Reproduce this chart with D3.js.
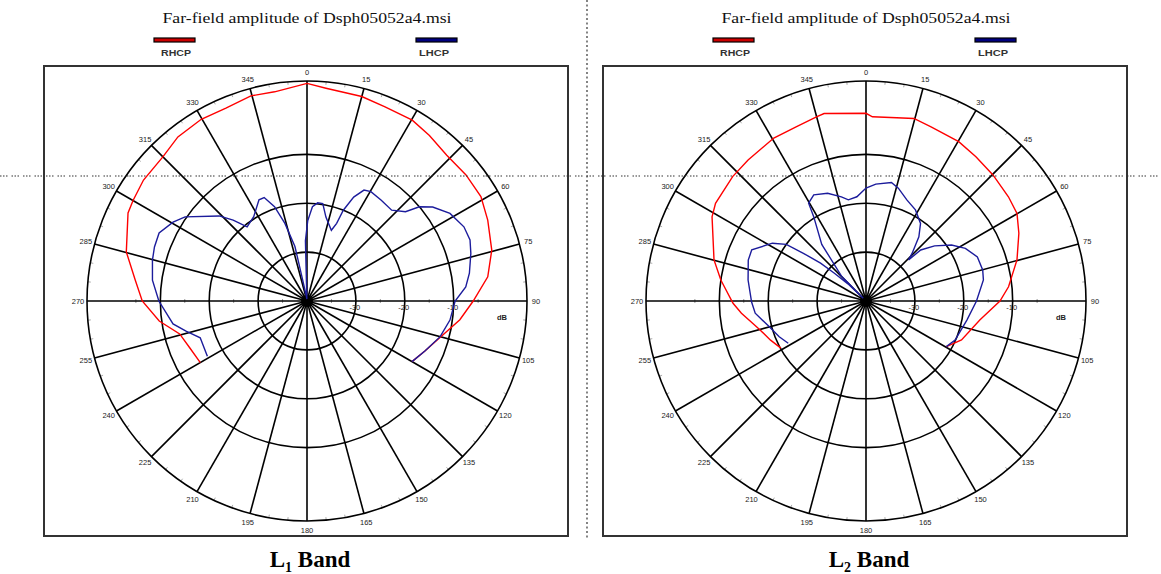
<!DOCTYPE html>
<html>
<head>
<meta charset="utf-8">
<script src="https://cdn.jsdelivr.net/npm/d3@7"></script>
<style>
  body { margin: 0; background: #fff; }
  svg { display: block; }
</style>
</head>
<body>
<svg id="chart" width="1161" height="574"></svg>
<script>
// Select the SVG container and define its dimensions
const svg = d3.select("#chart");
const width = +svg.attr("width");
const height = +svg.attr("height");

// Tick labels
const angleTicks = [0, 15, 30, 45, 60, 75, 90, 105, 120, 135, 150, 165,
                    180, 195, 210, 225, 240, 255, 270, 285, 300, 315, 330, 345];
const ringTicks = [-30, -20, -10];
const minorRingTicks = [-35, -25, -15, -5];
const seriesNames = ["RHCP", "LHCP"];
const bandNames = ["1", "2"];
const titleText = "Far-field amplitude of Dsph05052a4.msi";

// L1 band, RHCP (angle in degrees from boresight, amplitude in dB)
const l1RhcpAngles = [-120, -112, -104.5, -97.7, -90, -83, -74.8, -63.8, -59.9, -53.5, -45, -38.2,
                      -30.2, -22.8, -15.3, -8.8, 0, 5.1, 15, 21.9, 30.2, 36.5, 43.8, 51.6, 59,
                      65.9, 74.6, 82.4, 90, 97, 106.7, 113, 120];
const l1RhcpDb = [-14.8, -14.2, -13.1, -9.5, -6.3, -4.6, -1.7, 0.8, 1.1, 1.6, 1.7, 2.7,
                  3.0, 2.8, 3.5, 3.3, 4.5, 3.7, 3.3, 2.8, 2.8, 2.1, 1.3, 1.5, 1.5,
                  0.5, -0.8, -2.7, -6.0, -8.5, -12.2, -13.8, -15.2];

// L1 band, LHCP
const l1LhcpAngles = [-119, -109, -104, -99.7, -90, -82.3, -75.2, -70.5, -65.3, -59.5, -55.4, -45.9,
                      -42.4, -38.9, -32.3, -25.4, -22.5, -19, -15.9, -12.5, -11.8, -8, -4, -1.5,
                      0.5, 3.3, 6.2, 9.2, 12.7, 19, 20.9, 21.8, 24.2, 27.2, 30.3, 36.4, 43,
                      47.8, 50, 53.2, 58.5, 64.7, 69.5, 73.8, 80.3, 84.9, 90, 97.6, 105, 113, 120];
const l1LhcpDb = [-16.7, -16.9, -14.5, -12.2, -9.7, -8.1, -7.3, -6.9, -6.7, -8.2, -9.7, -15.0,
                  -17.6, -20.5, -19.6, -17.1, -17.1, -19.6, -23.5, -28.6, -34.9, -39, -39.6, -27.7,
                  -23.6, -20.7, -19.8, -19.8, -22.4, -24.7, -23.0, -20.0, -16.7, -14.5, -14.1, -14.4, -14.6,
                  -12.8, -10.0, -7.9, -5.7, -4.5, -4.4, -5.1, -6.3, -7.4, -9.7, -10.5, -11.8, -13.8, -15.2];

// L2 band, RHCP
const l2RhcpAngles = [-119, -112.3, -104.3, -95.6, -91, -81.8, -74.9, -61.3, -57, -47,
                      -39.9, -29.5, -21.7, -14.9, -12.6, 0, 2, 9.5, 14.7, 20.5,
                      30.2, 37.3, 45.2, 53.8, 59.9, 66.1, 74.8, 84.3, 90, 99.5, 112.2, 119.6];
const l2RhcpDb = [-20.1, -18.9, -17.3, -14.4, -12.8, -10.0, -7.8, -4.1, -3.3, -2.7,
                  -2.4, -1.7, -1.6, -1.0, -0.7, -1.6, -2.3, -2.0, -1.4, -2.0,
                  -2.3, -2.9, -3.4, -3.9, -4.3, -5.8, -8.0, -10.7, -12.6, -16.4, -18.9, -21.1];

// L2 band, LHCP
const l2LhcpAngles = [-118.5, -112.4, -104.8, -96.3, -90.5, -79.9, -70.8, -65.9, -58.3, -54.6,
                      -52.7, -50.2, -48.7, -46.5, -45.5, -44.5, -38, -31.8, -30.4, -26.2,
                      -19.6, -13.3, -9.9, -5, 0, 4.8, 12.1, 16, 22, 28.5,
                      35.1, 39.5, 44, 46, 47, 51.2, 56.8, 62.1, 68.4, 75.1,
                      79.8, 90, 100.7, 113.7, 119.6];
const l2LhcpDb = [-21.9, -20.8, -19.5, -17.2, -16.6, -15.5, -14.5, -14.4, -17.5, -20.0,
                  -23.9, -27.9, -31.4, -34.9, -39.2, -32.8, -25.3, -19.7, -16.8, -15.8,
                  -16.6, -18.1, -19.0, -18.6, -16.9, -16.0, -15.2, -16.0, -17.7, -18.8,
                  -20.6, -23.0, -26.4, -27.9, -24.7, -22.0, -19.1, -17.0, -15.5, -15.3,
                  -15.6, -17.4, -19.0, -20.1, -21.1];

// Layout
const centerY = 301;
const outerRadius = 220;
const boxTop = 66;
const boxWidth = 524;
const boxHeight = 470;
const rhcpColor = "#ff0000";
const lhcpColor = "#1c1c9c";
const gridWidth = 1.6;

// dB -> radius (outer circle is +5 dB)
const r = d3.scaleLinear().domain([-40, 5]).range([0, outerRadius]).clamp(true);

const lineRadial = d3.lineRadial()
    .angle(d => d[0] * Math.PI / 180)
    .radius(d => r(d[1]));

const panels = [
    { cx: 307, boxX: 44, band: bandNames[0],
      rhcp: d3.zip(l1RhcpAngles, l1RhcpDb), lhcp: d3.zip(l1LhcpAngles, l1LhcpDb) },
    { cx: 866, boxX: 603, band: bandNames[1],
      rhcp: d3.zip(l2RhcpAngles, l2RhcpDb), lhcp: d3.zip(l2LhcpAngles, l2LhcpDb) }
];

function rad(a) { return a * Math.PI / 180; }

/**
 * Draw one polar plot with its title, legend and band label.
 */
function drawPanel(p) {
    const root = svg.append("g");

    // title
    root.append("text")
        .attr("x", p.cx).attr("y", 20)
        .attr("text-anchor", "middle")
        .attr("dominant-baseline", "middle")
        .attr("font-family", "Liberation Serif, serif")
        .attr("font-size", 15)
        .attr("fill", "#111")
        .attr("textLength", 289)
        .attr("lengthAdjust", "spacingAndGlyphs")
        .text(titleText);

    // legend
    const legend = [
        { name: seriesNames[0], x: p.cx - 153, fill: "#cc0000", lx: p.cx - 131 },
        { name: seriesNames[1], x: p.cx + 109, fill: "#000080", lx: p.cx + 127 }
    ];
    legend.forEach(l => {
        root.append("rect")
            .attr("x", l.x).attr("y", 38)
            .attr("width", 41).attr("height", 4)
            .attr("fill", l.fill)
            .attr("stroke", "#000").attr("stroke-width", 1.2);
        root.append("text")
            .attr("x", l.lx).attr("y", 54)
            .attr("text-anchor", "middle")
            .attr("dominant-baseline", "middle")
            .attr("font-family", "Liberation Sans, Arial, sans-serif")
            .attr("font-size", 8.5)
            .attr("font-weight", "bold")
            .attr("textLength", 30)
            .attr("lengthAdjust", "spacingAndGlyphs")
            .attr("fill", "#333")
            .text(l.name);
    });

    // frame
    root.append("rect")
        .attr("x", p.boxX).attr("y", boxTop)
        .attr("width", boxWidth).attr("height", boxHeight)
        .attr("fill", "none")
        .attr("stroke", "#333").attr("stroke-width", 2);

    const g = root.append("g").attr("transform", `translate(${p.cx},${centerY})`);

    // minor ticks on the outer circle, every 5 degrees
    g.selectAll(".minor")
        .data(d3.range(0, 360, 5).filter(a => a % 15 !== 0))
        .enter().append("line")
        .attr("x1", a => (outerRadius - 3) * Math.sin(rad(a)))
        .attr("y1", a => -(outerRadius - 3) * Math.cos(rad(a)))
        .attr("x2", a => outerRadius * Math.sin(rad(a)))
        .attr("y2", a => -outerRadius * Math.cos(rad(a)))
        .attr("stroke", "#aaa").attr("stroke-width", 1);

    // minor ticks on the 90/270 axis
    g.selectAll(".rtick")
        .data(minorRingTicks.flatMap(v => [r(v), -r(v)]))
        .enter().append("line")
        .attr("x1", d => d).attr("x2", d => d)
        .attr("y1", -2).attr("y2", 2)
        .attr("stroke", "#999").attr("stroke-width", 1);

    // rings
    g.selectAll(".ring")
        .data(ringTicks.concat([5]))
        .enter().append("circle")
        .attr("r", d => r(d))
        .attr("fill", "none")
        .attr("stroke", "#000").attr("stroke-width", gridWidth);

    // spokes
    g.selectAll(".spoke")
        .data(angleTicks)
        .enter().append("line")
        .attr("x1", 0).attr("y1", 0)
        .attr("x2", a => outerRadius * Math.sin(rad(a)))
        .attr("y2", a => -outerRadius * Math.cos(rad(a)))
        .attr("stroke", "#000").attr("stroke-width", gridWidth);

    g.append("circle").attr("r", 6).attr("fill", "#000");

    // angle labels
    g.selectAll(".alabel")
        .data(angleTicks)
        .enter().append("text")
        .attr("x", a => 229 * Math.sin(rad(a)))
        .attr("y", a => -229 * Math.cos(rad(a)))
        .attr("text-anchor", "middle")
        .attr("dominant-baseline", "central")
        .attr("font-family", "Liberation Sans, Arial, sans-serif")
        .attr("font-size", 7.5)
        .attr("fill", "#222")
        .text(a => a);

    // ring labels
    g.selectAll(".rlabel")
        .data(ringTicks)
        .enter().append("text")
        .attr("x", d => r(d) - 1)
        .attr("y", 6)
        .attr("text-anchor", "middle")
        .attr("dominant-baseline", "central")
        .attr("font-family", "Liberation Sans, Arial, sans-serif")
        .attr("font-size", 7.5)
        .attr("fill", "#222")
        .text(d => d);

    g.append("text")
        .attr("x", 195).attr("y", 16)
        .attr("text-anchor", "middle")
        .attr("dominant-baseline", "central")
        .attr("font-family", "Liberation Sans, Arial, sans-serif")
        .attr("font-size", 7.5)
        .attr("font-weight", "bold")
        .attr("fill", "#222")
        .text("dB");

    // curves
    g.append("path")
        .attr("d", lineRadial(p.rhcp))
        .attr("fill", "none")
        .attr("stroke", rhcpColor).attr("stroke-width", 1.4);
    g.append("path")
        .attr("d", lineRadial(p.lhcp))
        .attr("fill", "none")
        .attr("stroke", lhcpColor).attr("stroke-width", 1.4);

    // band label
    const label = root.append("text")
        .attr("x", p.cx + 3).attr("y", 567)
        .attr("text-anchor", "middle")
        .attr("font-family", "Liberation Serif, serif")
        .attr("font-weight", "bold")
        .attr("font-size", 23);
    label.append("tspan").text("L");
    label.append("tspan").attr("font-size", 14).attr("dy", 5).text(p.band);
    label.append("tspan").attr("dy", -5).text(" Band");
}

panels.forEach(drawPanel);

// dotted guide lines across the figure
svg.append("line")
    .attr("x1", 0).attr("x2", width)
    .attr("y1", 176).attr("y2", 176)
    .attr("stroke", "#333").attr("stroke-width", 1.2)
    .attr("stroke-dasharray", "1.5,1.5,1.5,1.5,1.5,4");
svg.append("line")
    .attr("x1", 587).attr("x2", 587)
    .attr("y1", 0).attr("y2", 540)
    .attr("stroke", "#333").attr("stroke-width", 1.2)
    .attr("stroke-dasharray", "2,2.5");
</script>
</body>
</html>
